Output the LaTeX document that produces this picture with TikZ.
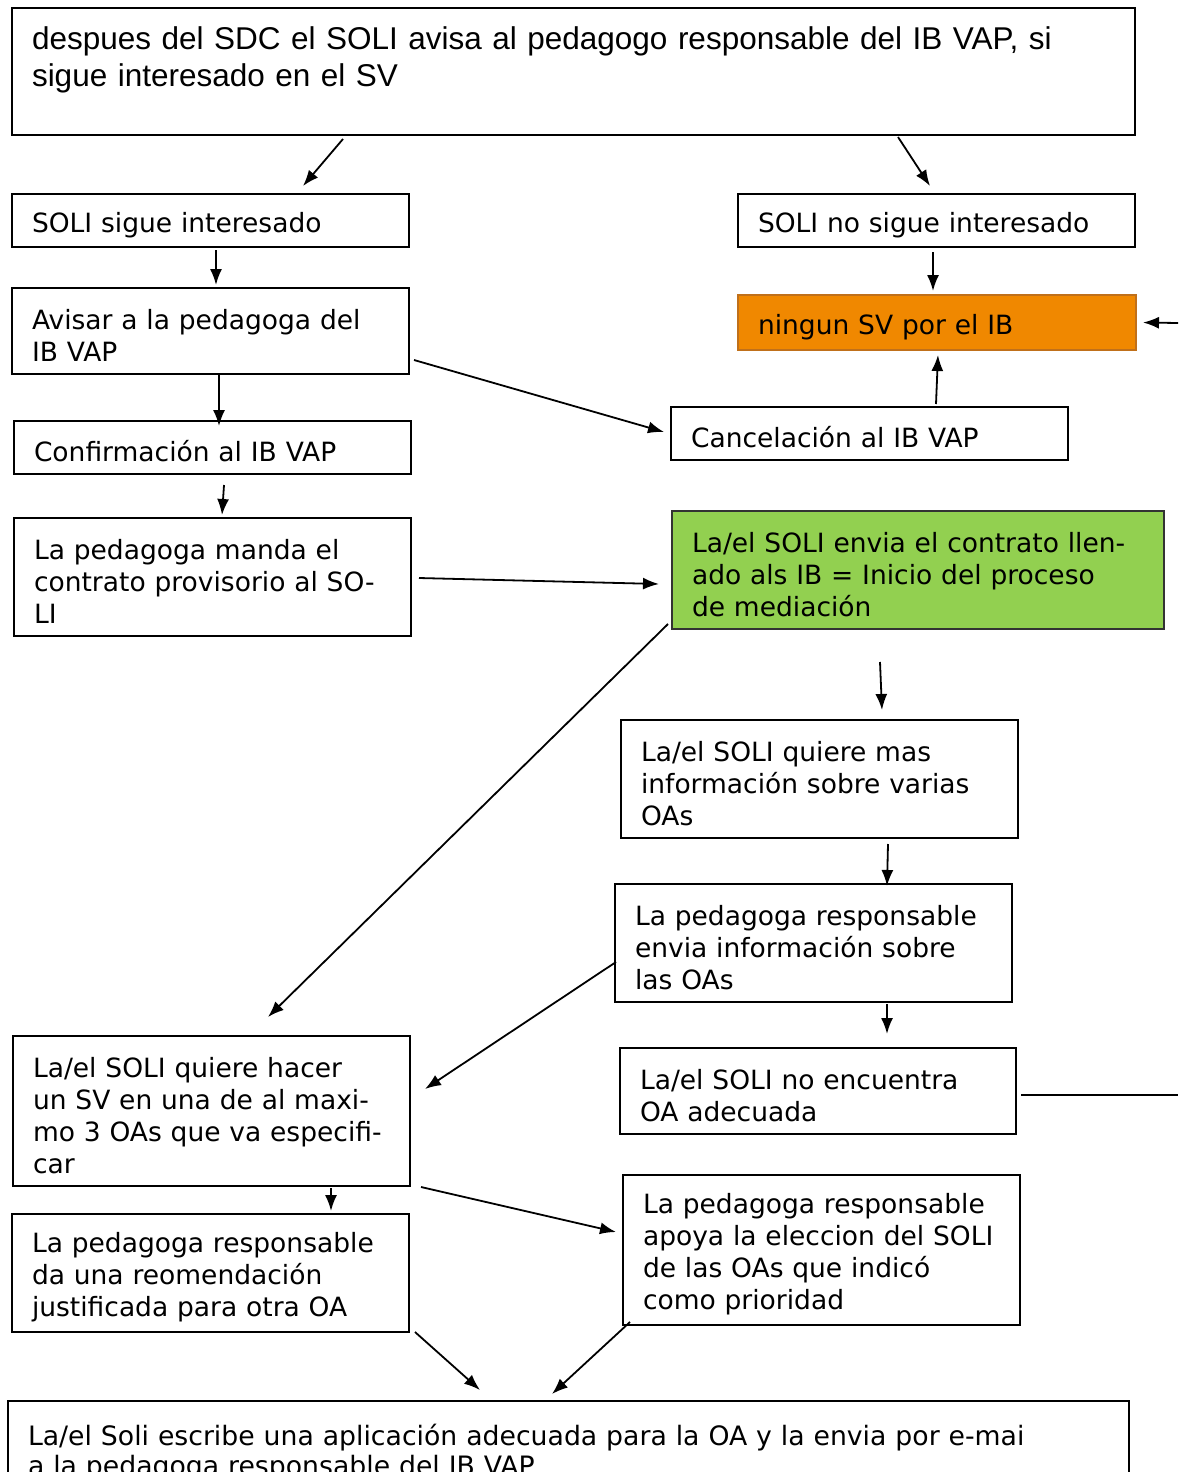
\documentclass[tikz,border=0pt]{standalone}
\usepackage{fontspec}
\usetikzlibrary{arrows.meta}
\newfontfamily\verd{DejaVu Sans}
\newfontfamily\arialf{Liberation Sans}
\newfontfamily\tahf{DejaVu Sans}
\definecolor{orangefill}{HTML}{F08800}
\definecolor{orangeline}{HTML}{C0701A}
\definecolor{greenfill}{HTML}{92D050}
\newcommand{\toproom}{\rule{0pt}{29pt}}
\tikzset{
  box/.style={
      rectangle,
      draw=black,
      line width=1.6pt,
      anchor=north west,
      outer sep=0pt,
      inner xsep=20pt,
      inner ysep=0pt,
      align=left,
      execute at begin node=\toproom,
      font=\verd\fontsize{26.5}{32}\selectfont
  },
  arr/.style={-{Latex[length=16pt,width=12pt]}, line width=1.8pt},
  link/.style={line width=1.8pt}
}
\begin{document}
\begin{tikzpicture}[x=1pt,y=-1pt]
    \useasboundingbox (0,0) rectangle (1178,1472);
    \clip (0,0) rectangle (1178,1472);
    % boxes
    \node[box, text width=1083pt, minimum height=127pt,
          font=\arialf\fontsize{31.5}{37}\selectfont] (top) at (12,8)
      {despues del SDC el SOLI avisa al pedagogo responsable del IB VAP, si\\
       sigue interesado en el SV\\ \mbox{}};
    \node[box, text width=357pt, minimum height=53pt] (sigue) at (12,194) {SOLI sigue interesado};
    \node[box, text width=357pt, minimum height=53pt] (nosig) at (738,194) {SOLI no sigue interesado};
    \node[box, text width=357pt, minimum height=86pt] (avisar) at (12,288) {Avisar a la pedagoga del\\IB VAP};
    \node[box, text width=358pt, minimum height=55pt, draw=orangeline, fill=orangefill] (ningun) at (738,295) {ningun SV por el IB};
    \node[box, text width=357pt, minimum height=53pt] (confirm) at (14,421) {Confirmación al IB VAP};
    \node[box, text width=357pt, minimum height=53pt] (cancel) at (671,407) {Cancelación al IB VAP};
    \node[box, text width=357pt, minimum height=118pt] (manda) at (14,518)
      {La pedagoga manda el\\contrato provisorio al SO-\\LI};
    \node[box, text width=452pt, minimum height=118pt, draw=black!80, fill=greenfill] (green) at (672,511)
      {La/el SOLI envia el contrato llen-\\ado als IB = Inicio del proceso\\de mediación};
    \node[box, text width=357pt, minimum height=118pt] (quiere) at (621,720)
      {La/el SOLI quiere mas\\información sobre varias\\OAs};
    \node[box, text width=357pt, minimum height=118pt] (envia) at (615,884)
      {La pedagoga responsable\\envia información sobre\\las OAs};
    \node[box, text width=356pt, minimum height=86pt] (noenc) at (620,1048)
      {La/el SOLI no encuentra\\OA adecuada};
    \node[box, text width=357pt, minimum height=150pt] (hacer) at (13,1036)
      {La/el SOLI quiere hacer\\un SV en una de al maxi-\\mo 3 OAs que va especifi-\\car};
    \node[box, text width=357pt, minimum height=118pt] (reom) at (12,1214)
      {La pedagoga responsable\\da una reomendación\\justificada para otra OA};
    \node[box, text width=357pt, minimum height=150pt] (apoya) at (623,1175)
      {La pedagoga responsable\\apoya la eleccion del SOLI\\de las OAs que indicó\\como prioridad};
    \node[box, text width=1081pt, minimum height=120pt,
          font=\tahf\fontsize{26.7}{30}\selectfont] (bottom) at (8,1401)
      {La/el Soli escribe una aplicación adecuada para la OA y la envia por e-mai\\
       a la pedagoga responsable del IB VAP\\ \mbox{}};
    % free ends at the right edge
    \coordinate (redgeA) at (1178,323);
    \coordinate (redgeB) at (1178,1095);
    % connectors
    \draw[arr] ([shift={(331,4)}]top.south west) -- ([shift={(291,-8)}]sigue.north west);
    \draw[arr] ([shift={(886,2)}]top.south west) -- ([shift={(192,-8)}]nosig.north west);
    \draw[arr] ([shift={(204,3)}]sigue.south west) -- ([shift={(204,-3)}]avisar.north west);
    \draw[arr] ([shift={(195,5)}]nosig.south west) -- ([shift={(195,-4)}]ningun.north west);
    \draw[arr] ([shift={(207,-1)}]avisar.south west) -- ([shift={(205,5)}]confirm.north west);
    \draw[arr] ([shift={(5,-14)}]avisar.south east) -- ([shift={(-7,25)}]cancel.north west);
    \draw[arr] ([shift={(265,-3)}]cancel.north west) -- ([shift={(200,5)}]ningun.south west);
    \draw[arr] (redgeA) -- ([shift={(7,0)}]ningun.east);
    \draw[arr] ([shift={(210,11)}]confirm.south west) -- ([shift={(208,-3)}]manda.north west);
    \draw[arr] ([shift={(8,1)}]manda.east) -- ([shift={(-13,14)}]green.west);
    \draw[arr] ([shift={(-4,-5)}]green.south west) -- ([shift={(255,-19)}]hacer.north west);
    \draw[arr] ([shift={(208,33)}]green.south west) -- ([shift={(261,-10)}]quiere.north west);
    \draw[arr] ([shift={(267,6)}]quiere.south west) -- ([shift={(272,2)}]envia.north west);
    \draw[arr] ([shift={(272,2)}]envia.south west) -- ([shift={(267,-14)}]noenc.north west);
    \draw[arr] ([shift={(1,19)}]envia.west) -- ([shift={(15,-22)}]hacer.east);
    \draw[link] ([shift={(5,4)}]noenc.east) -- (redgeB);
    \draw[arr] ([shift={(318,2)}]hacer.south west) -- ([shift={(319,-3)}]reom.north west);
    \draw[arr] ([shift={(11,1)}]hacer.south east) -- ([shift={(-7,-18)}]apoya.west);
    \draw[arr] ([shift={(6,0)}]reom.south east) -- ([shift={(472,-11)}]bottom.north west);
    \draw[arr] ([shift={(7,-3)}]apoya.south west) -- ([shift={(544,-7)}]bottom.north west);
\end{tikzpicture}
\end{document}
